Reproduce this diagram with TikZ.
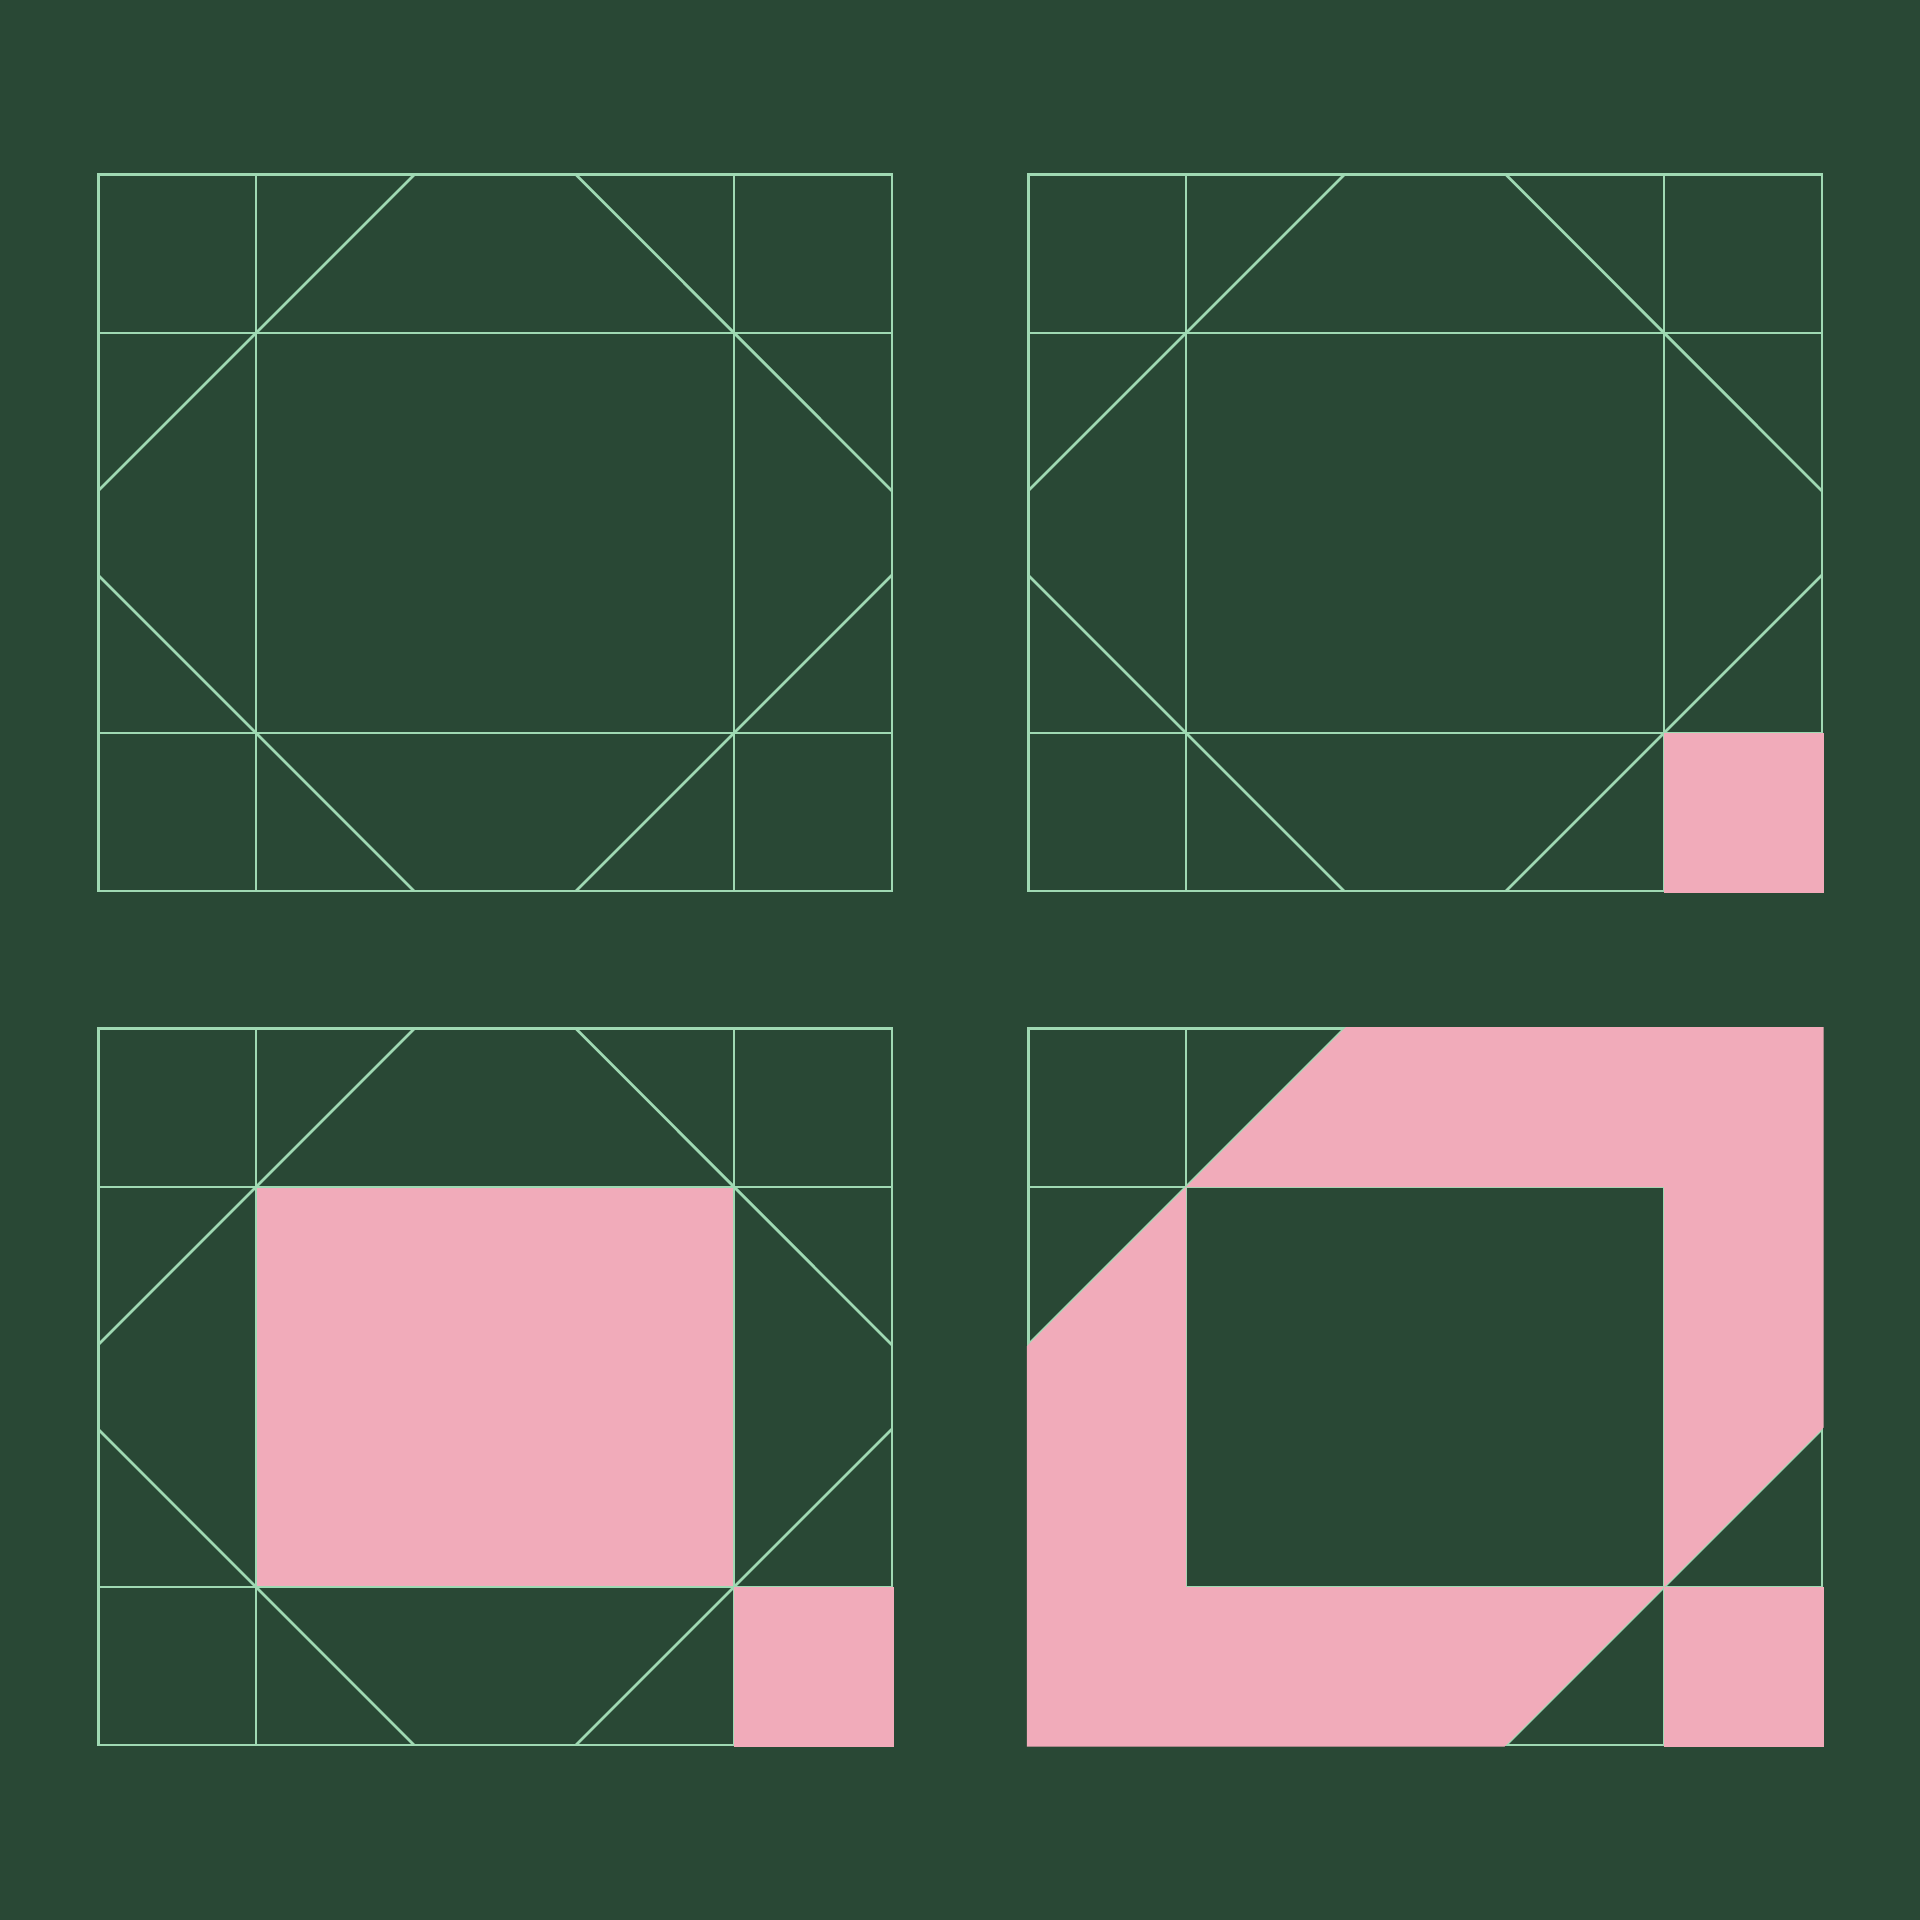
\documentclass[tikz,border=0pt]{standalone}
\definecolor{bg}{HTML}{294835}
\definecolor{mint}{HTML}{9FD9B3}
\definecolor{rose}{HTML}{F1ABBA}
\begin{document}
\begin{tikzpicture}[x=0.01cm,y=-0.01cm,
  gridline/.style={draw=mint,line width=0.78pt,line cap=rect},
  rosefill/.style={fill=rose}]
\fill[bg] (0,0) rectangle (1920,1920);
\useasboundingbox (0,0) rectangle (1920,1920);
\tikzset{quiltgrid/.pic={
  \draw[gridline] (98.3,174.7) rectangle (892,891);
  \draw[gridline] (256,174.7) -- (256,891) (734,174.7) -- (734,891)
                  (98.3,333) -- (892,333) (98.3,733) -- (892,733);
  \draw[gridline,line cap=butt] (98.3,490.7) -- (414.3,174.7)
                  (576,174.7) -- (892,491)
                  (98.3,575.3) -- (414,891)
                  (576,891) -- (892,575);
}}
% panel 1
\pic at (0,0) {quiltgrid};
% panel 2
\pic at (930,0) {quiltgrid};
\begin{scope}[shift={(930,0)}]
  \fill[rosefill] (734,733) rectangle (893.5,892.5);
\end{scope}
% panel 3
\begin{scope}[shift={(0,854)}]
  \fill[rosefill] (256,333) rectangle (734,733);
\end{scope}
\pic at (0,854) {quiltgrid};
\begin{scope}[shift={(0,854)}]
  \fill[rosefill] (734,733) rectangle (893.5,892.5);
\end{scope}
% panel 4
\pic at (930,854) {quiltgrid};
\begin{scope}[shift={(930,854)}]
  \fill[rosefill,even odd rule]
    (96.8,492.2) -- (256,333) -- (415.8,173.2) -- (893.5,173.2) -- (893.5,573.5)
    -- (734,733) -- (574.5,892.5) -- (96.8,892.5) -- cycle
    (256,333) rectangle (734,733);
  \fill[rosefill] (734,733) rectangle (893.5,892.5);
\end{scope}
\end{tikzpicture}
\end{document}
